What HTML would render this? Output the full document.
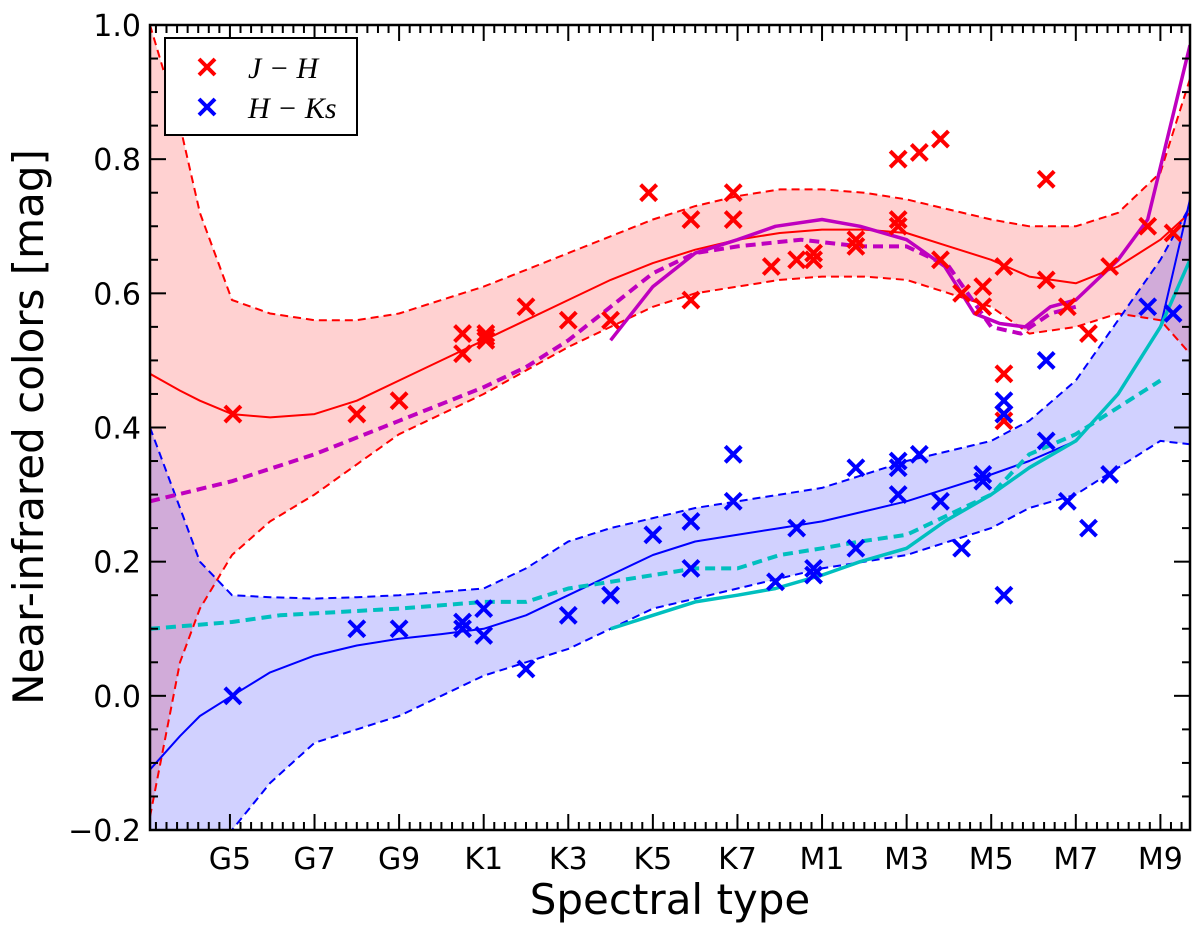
<!DOCTYPE html>
<html><head><meta charset="utf-8"><style>
body{margin:0;background:#fff;}
svg{display:block;font-family:"DejaVu Sans","Liberation Sans",sans-serif;}
</style></head><body>
<svg id="chart" width="1200" height="929" xmlns="http://www.w3.org/2000/svg"></svg>
<script>
const xTickLabels=["G5","G7","G9","K1","K3","K5","K7","M1","M3","M5","M7","M9"];
const xTickIdx=[0,2,4,6,8,10,12,14,16,18,20,22];
const yTicks=[-0.2,0.0,0.2,0.4,0.6,0.8,1.0];
const jhX=[0.07,3,4,5.5,5.5,6.05,6.05,6.05,7,8,9,9.9,10.9,10.9,11.9,11.9,12.8,13.4,13.8,13.8,14.8,14.8,15.8,15.8,15.8,16.3,16.8,16.8,17.3,17.8,17.8,18.3,18.3,18.3,18.3,19.3,19.3,19.8,20.3,20.8,21.7,22.3];
const jhY=[0.42,0.42,0.44,0.54,0.51,0.54,0.53,0.535,0.58,0.56,0.56,0.75,0.71,0.59,0.75,0.71,0.64,0.65,0.66,0.65,0.68,0.67,0.80,0.71,0.70,0.81,0.83,0.65,0.60,0.61,0.58,0.64,0.48,0.42,0.41,0.77,0.62,0.58,0.54,0.64,0.70,0.69];
const hkX=[0.07,3,4,5.5,5.5,6,6,7,8,9,10,10.9,10.9,11.9,11.9,12.9,13.4,13.8,13.8,14.8,14.8,15.8,15.8,15.8,16.3,16.8,17.3,17.8,17.8,18.3,18.3,18.3,19.3,19.3,19.8,20.3,20.8,21.7,22.3];
const hkY=[0.0,0.10,0.10,0.11,0.10,0.13,0.09,0.04,0.12,0.15,0.24,0.26,0.19,0.36,0.29,0.17,0.25,0.19,0.18,0.34,0.22,0.35,0.34,0.30,0.36,0.29,0.22,0.33,0.32,0.44,0.42,0.15,0.50,0.38,0.29,0.25,0.33,0.58,0.57];
const bandX=[-1.89,-1.18,-0.71,0.05,0.95,2,3,4,5,6,7,8,9,10,11,12,13,14,15,16,17,18,18.9,20,21,22,22.7];
const jhFit=[0.48,0.455,0.44,0.42,0.415,0.42,0.44,0.47,0.50,0.53,0.56,0.59,0.62,0.645,0.665,0.68,0.69,0.695,0.695,0.69,0.67,0.65,0.625,0.615,0.64,0.68,0.72];
const jhUp=[1.0,0.85,0.72,0.59,0.57,0.56,0.56,0.57,0.59,0.61,0.635,0.66,0.685,0.71,0.73,0.745,0.755,0.755,0.75,0.74,0.725,0.71,0.70,0.70,0.72,0.78,0.92];
const jhLo=[-0.18,0.05,0.13,0.21,0.26,0.30,0.345,0.39,0.42,0.45,0.485,0.52,0.55,0.58,0.60,0.61,0.62,0.625,0.625,0.62,0.60,0.58,0.54,0.55,0.57,0.56,0.51];
const hkFit=[-0.11,-0.06,-0.03,0.0,0.035,0.06,0.075,0.085,0.092,0.10,0.12,0.15,0.18,0.21,0.23,0.24,0.25,0.26,0.275,0.29,0.31,0.33,0.35,0.38,0.45,0.55,0.74];
const hkUp=[0.40,0.28,0.20,0.15,0.147,0.145,0.147,0.15,0.155,0.16,0.19,0.23,0.25,0.265,0.28,0.29,0.30,0.31,0.33,0.35,0.365,0.38,0.41,0.47,0.56,0.65,0.73];
const hkLo=[-0.36,-0.3,-0.25,-0.2,-0.13,-0.07,-0.05,-0.03,0.0,0.03,0.05,0.07,0.10,0.13,0.145,0.16,0.175,0.19,0.20,0.21,0.23,0.25,0.28,0.30,0.34,0.38,0.375];
const magDX=[-1.89,0.05,2,4,6,7,8,9,10,11,12,13.5,14.9,16,17,18,18.7,19.4,20];
const magDY=[0.29,0.32,0.36,0.41,0.46,0.49,0.53,0.58,0.63,0.66,0.67,0.68,0.67,0.67,0.64,0.55,0.54,0.57,0.58];
const magSX=[9,10,11,12,12.9,14,14.9,16,16.9,17.6,18.2,18.8,19.4,20,21,21.7,22.7];
const magSY=[0.53,0.61,0.66,0.68,0.70,0.71,0.70,0.68,0.64,0.57,0.555,0.55,0.58,0.59,0.65,0.71,0.97];
const cyDX=[-1.89,0.05,1.18,4,6,7,8,10,11,12,13,14,14.9,16,17,18,18.9,20,21,22];
const cyDY=[0.10,0.11,0.12,0.13,0.14,0.14,0.16,0.18,0.19,0.19,0.21,0.22,0.23,0.24,0.27,0.30,0.36,0.39,0.43,0.47];
const cySX=[9,10,11,12,12.9,14,14.9,16,16.9,18,18.9,20,21,22,22.7];
const cySY=[0.10,0.12,0.14,0.15,0.16,0.18,0.20,0.22,0.26,0.30,0.34,0.38,0.45,0.55,0.65];

const L=150,R=1190,T=25,B=830,XMIN=-1.89,XMAX=22.7,YMIN=-0.2,YMAX=1.0;
const sx=v=>L+(v-XMIN)/(XMAX-XMIN)*(R-L);
const sy=v=>B-(v-YMIN)/(YMAX-YMIN)*(B-T);
const NS="http://www.w3.org/2000/svg";
const svg=document.getElementById('chart');
function mk(tag,attrs,parent){const e=document.createElementNS(NS,tag);for(const k in attrs)e.setAttribute(k,attrs[k]);(parent||svg).appendChild(e);return e;}
const defs=mk('defs',{});const cp=mk('clipPath',{id:'clip'},defs);mk('rect',{x:L,y:T,width:R-L,height:B-T},cp);
const plot=mk('g',{'clip-path':'url(#clip)'});


function pts(xs,ys){return xs.map((x,i)=>sx(x).toFixed(1)+','+sy(ys[i]).toFixed(1)).join(' ');}
function band(up,lo,fill,name){const p=pts(bandX,up)+' '+pts(bandX.slice().reverse(),lo.slice().reverse());const e=mk('polygon',{points:p,fill:fill,'fill-opacity':0.18},plot);}
band(jhUp,jhLo,'#ff0000','jh-band');
band(hkUp,hkLo,'#0000ff','hk-band');
function line(xs,ys,col,w,dash,name){const e=mk('polyline',{points:pts(xs,ys),fill:'none',stroke:col,'stroke-width':w,'stroke-dasharray':dash||'none','stroke-linejoin':'round'},plot);}
line(bandX,jhUp,'#ff0000',2,'8,5','jh-upper-bound');
line(bandX,jhLo,'#ff0000',2,'8,5','jh-lower-bound');
line(bandX,jhFit,'#ff0000',2,null,'jh-fit-line');
line(bandX,hkUp,'#0000ff',2,'8,5','hk-upper-bound');
line(bandX,hkLo,'#0000ff',2,'8,5','hk-lower-bound');
line(bandX,hkFit,'#0000ff',2,null,'hk-fit-line');
line(magDX,magDY,'#bf00bf',4,'10,6','magenta-dashed-line');
line(magSX,magSY,'#bf00bf',3.5,null,'magenta-solid-line');
line(cyDX,cyDY,'#00bfbf',4,'10,6','cyan-dashed-line');
line(cySX,cySY,'#00bfbf',3.5,null,'cyan-solid-line');
function cross(x,y,col,name,parent){const g=mk('g',{stroke:col,'stroke-width':4},parent||plot);const s=8;mk('line',{x1:x-s,y1:y-s,x2:x+s,y2:y+s},g);mk('line',{x1:x-s,y1:y+s,x2:x+s,y2:y-s},g);}
jhX.forEach((x,i)=>cross(sx(x),sy(jhY[i]),'#ff0000','jh-point'));
hkX.forEach((x,i)=>cross(sx(x),sy(hkY[i]),'#0000ff','hk-point'));
const ax=mk('g',{stroke:'#000','stroke-width':2});


mk('rect',{x:L,y:T,width:R-L,height:B-T,fill:'none','stroke-width':2.5},ax);
for(let v=Math.ceil(XMIN*4)/4;v<=XMAX;v+=0.25){const X=sx(v);const maj=xTickIdx.includes(Math.round(v*100)/100);const len=maj?16:8;mk('line',{x1:X,y1:B,x2:X,y2:B-len},ax);mk('line',{x1:X,y1:T,x2:X,y2:T+len},ax);}
for(let v=YMIN;v<=YMAX+1e-9;v+=0.05){const Y=sy(v);const maj=Math.abs(v*5-Math.round(v*5))<1e-6;const len=maj?16:8;mk('line',{x1:L,y1:Y,x2:L+len,y2:Y},ax);mk('line',{x1:R,y1:Y,x2:R-len,y2:Y},ax);}
xTickLabels.forEach((t,i)=>{const e=mk('text',{x:sx(xTickIdx[i]),y:869,'font-size':30,'text-anchor':'middle'});e.textContent=t;});
yTicks.forEach(v=>{const e=mk('text',{x:141,y:sy(v)+11,'font-size':30,'text-anchor':'end'});e.textContent=(v<0?'\u2212':'')+Math.abs(v).toFixed(1);});
const xt=mk('text',{x:670,y:914,'font-size':42,'text-anchor':'middle'});xt.textContent='Spectral type';


const yt=mk('text',{x:0,y:0,'font-size':42,'text-anchor':'middle',transform:'translate(43,427) rotate(-90)'});yt.textContent='Near-infrared colors [mag]';


const lg=mk('g',{});


mk('rect',{x:165,y:38,width:192,height:97,fill:'#fff',stroke:'#000','stroke-width':2},lg);
cross(207,67,'#ff0000','legend-jh-marker',lg);
cross(207,107,'#0000ff','legend-hk-marker',lg);
const t1=mk('text',{x:248,y:78,'font-size':30,'font-style':'italic','font-family':'"Liberation Serif",serif'},lg);t1.textContent='J \u2212 H';


const t2=mk('text',{x:248,y:118,'font-size':30,'font-style':'italic','font-family':'"Liberation Serif",serif'},lg);t2.textContent='H \u2212 Ks';


</script>
</body></html>
